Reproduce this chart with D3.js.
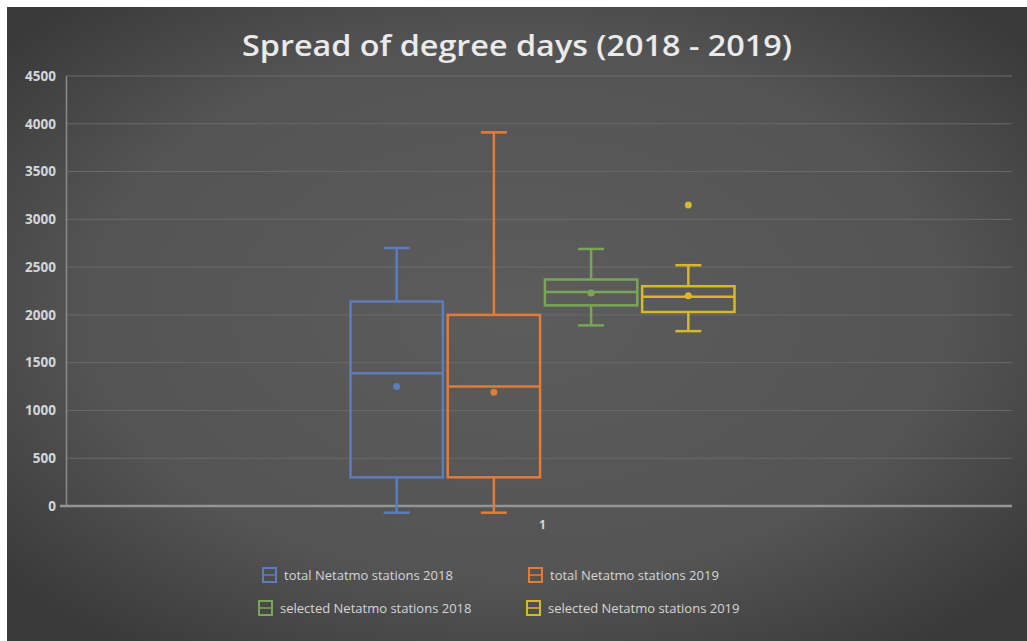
<!DOCTYPE html>
<html>
<head>
<meta charset="utf-8">
<script src="https://cdn.jsdelivr.net/npm/d3@7/dist/d3.min.js"></script>
<style>
  html, body { margin: 0; padding: 0; background: #ffffff; }
  svg { display: block; }
  text { font-family: "Open Sans", "Liberation Sans", sans-serif; }
</style>
</head>
<body>
<script>
// Box-and-whisker summary of degree days per station group
const categories = ["1"];
const seriesNames = [
  "total Netatmo stations 2018",
  "total Netatmo stations 2019",
  "selected Netatmo stations 2018",
  "selected Netatmo stations 2019"
];
const seriesColors = ["#5b7dbd", "#e27c3a", "#78a656", "#d6b82c"];
const mins    = [-70, -70, 1890, 1830];
const q1s     = [300, 300, 2100, 2030];
const medians = [1390, 1250, 2240, 2190];
const q3s     = [2140, 2000, 2370, 2300];
const maxs    = [2700, 3910, 2690, 2520];
const means   = [1250, 1190, 2230, 2200];
const outliers = [[], [], [], [3150]];
const yTicks = [0, 500, 1000, 1500, 2000, 2500, 3000, 3500, 4000, 4500];
const title = "Spread of degree days (2018 - 2019)";

const W = 1027, H = 641;
const svg = d3.select("body").append("svg").attr("width", W).attr("height", H);

// background: white page with dark chart frame
svg.append("rect").attr("width", W).attr("height", H).attr("fill", "#ffffff");
const defs = svg.append("defs");
const grad = defs.append("radialGradient").attr("id", "bg")
  .attr("cx", "50%").attr("cy", "48%").attr("r", "65%");
grad.append("stop").attr("offset", "0%").attr("stop-color", "#5c5c5c");
grad.append("stop").attr("offset", "65%").attr("stop-color", "#545454");
grad.append("stop").attr("offset", "100%").attr("stop-color", "#3a3a3a");
svg.append("rect").attr("x", 7).attr("y", 7).attr("width", W - 7).attr("height", H - 7)
  .attr("fill", "url(#bg)");

// scales
const y = d3.scaleLinear().domain([0, 4500]).range([506, 76]);
const x = d3.scaleBand().domain(categories).range([70, 1015]);
const inner = d3.scaleBand().domain(seriesNames)
  .range([x("1") + x.bandwidth() / 2 - 192, x("1") + x.bandwidth() / 2 + 192])
  .paddingInner(0.05);

// gridlines
svg.append("g").selectAll("line").data(yTicks.filter(d => d !== 0)).join("line")
  .attr("x1", 66).attr("x2", 1012)
  .attr("y1", d => y(d)).attr("y2", d => y(d))
  .attr("stroke", "#6a6a6a").attr("stroke-width", 1);

// y axis
const yAxis = d3.axisLeft(y).tickValues(yTicks).tickFormat(d3.format("d"))
  .tickSize(0).tickPadding(10);
const gy = svg.append("g").attr("transform", "translate(66,0)").call(yAxis);
gy.select(".domain").attr("stroke", "#8a8a8a").attr("stroke-width", 1.5);
gy.selectAll("text").attr("fill", "#d6d6d6").attr("font-size", 13.5).attr("font-weight", "bold");

// x axis
const xAxis = d3.axisBottom(x).tickSize(0).tickPadding(14);
const gx = svg.append("g").attr("transform", "translate(0,506)").call(xAxis);
gx.select(".domain").attr("stroke", "none");
gx.selectAll("text").attr("fill", "#d6d6d6").attr("font-size", 12).attr("font-weight", "bold");
svg.append("line").attr("x1", 60).attr("x2", 1012).attr("y1", y(0)).attr("y2", y(0))
  .attr("stroke", "#959595").attr("stroke-width", 2.5);

// boxes
const data = seriesNames.map((name, i) => ({
  name, color: seriesColors[i], min: mins[i], q1: q1s[i], med: medians[i],
  q3: q3s[i], max: maxs[i], mean: means[i], out: outliers[i]
}));
const capW = 26;
const g = svg.append("g").selectAll("g").data(data).join("g");
g.each(function(d) {
  const sel = d3.select(this);
  const x0 = inner(d.name), bw = inner.bandwidth(), cx = x0 + bw / 2;
  const sw = 2.5;
  // whiskers
  sel.append("line").attr("x1", cx).attr("x2", cx).attr("y1", y(d.q3)).attr("y2", y(d.max))
    .attr("stroke", d.color).attr("stroke-width", sw);
  sel.append("line").attr("x1", cx).attr("x2", cx).attr("y1", y(d.q1)).attr("y2", y(d.min))
    .attr("stroke", d.color).attr("stroke-width", sw);
  sel.append("line").attr("x1", cx - capW / 2).attr("x2", cx + capW / 2)
    .attr("y1", y(d.max)).attr("y2", y(d.max)).attr("stroke", d.color).attr("stroke-width", sw);
  sel.append("line").attr("x1", cx - capW / 2).attr("x2", cx + capW / 2)
    .attr("y1", y(d.min)).attr("y2", y(d.min)).attr("stroke", d.color).attr("stroke-width", sw);
  // box
  sel.append("rect").attr("x", x0).attr("width", bw)
    .attr("y", y(d.q3)).attr("height", y(d.q1) - y(d.q3))
    .attr("fill", "none").attr("stroke", d.color).attr("stroke-width", sw);
  // median
  sel.append("line").attr("x1", x0).attr("x2", x0 + bw)
    .attr("y1", y(d.med)).attr("y2", y(d.med)).attr("stroke", d.color).attr("stroke-width", sw);
  // mean marker
  sel.append("circle").attr("cx", cx).attr("cy", y(d.mean)).attr("r", 3.5).attr("fill", d.color);
  // outliers
  sel.selectAll("circle.out").data(d.out).join("circle").attr("class", "out")
    .attr("cx", cx).attr("cy", v => y(v)).attr("r", 3.5).attr("fill", d.color);
});

// title
svg.append("text").attr("x", 517).attr("y", 56).attr("text-anchor", "middle")
  .attr("fill", "#eaeaea").attr("font-size", 28).attr("font-weight", 600).text(title)
  .attr("textLength", 550).attr("lengthAdjust", "spacingAndGlyphs");

// legend
const legendPos = [[263, 575], [529, 575], [259, 608], [527, 608]];
const lg = svg.append("g").selectAll("g").data(data).join("g")
  .attr("transform", (d, i) => `translate(${legendPos[i][0]},${legendPos[i][1]})`);
lg.append("rect").attr("x", 0).attr("y", -7).attr("width", 13).attr("height", 14)
  .attr("fill", "none").attr("stroke", d => d.color).attr("stroke-width", 2);
lg.append("line").attr("x1", 0).attr("x2", 13).attr("y1", 0).attr("y2", 0)
  .attr("stroke", d => d.color).attr("stroke-width", 1.5);
lg.append("text").attr("x", 21).attr("y", 0).attr("dy", "0.35em")
  .attr("fill", "#d6d6d6").attr("font-size", 13).text(d => d.name);
</script>
</body>
</html>
